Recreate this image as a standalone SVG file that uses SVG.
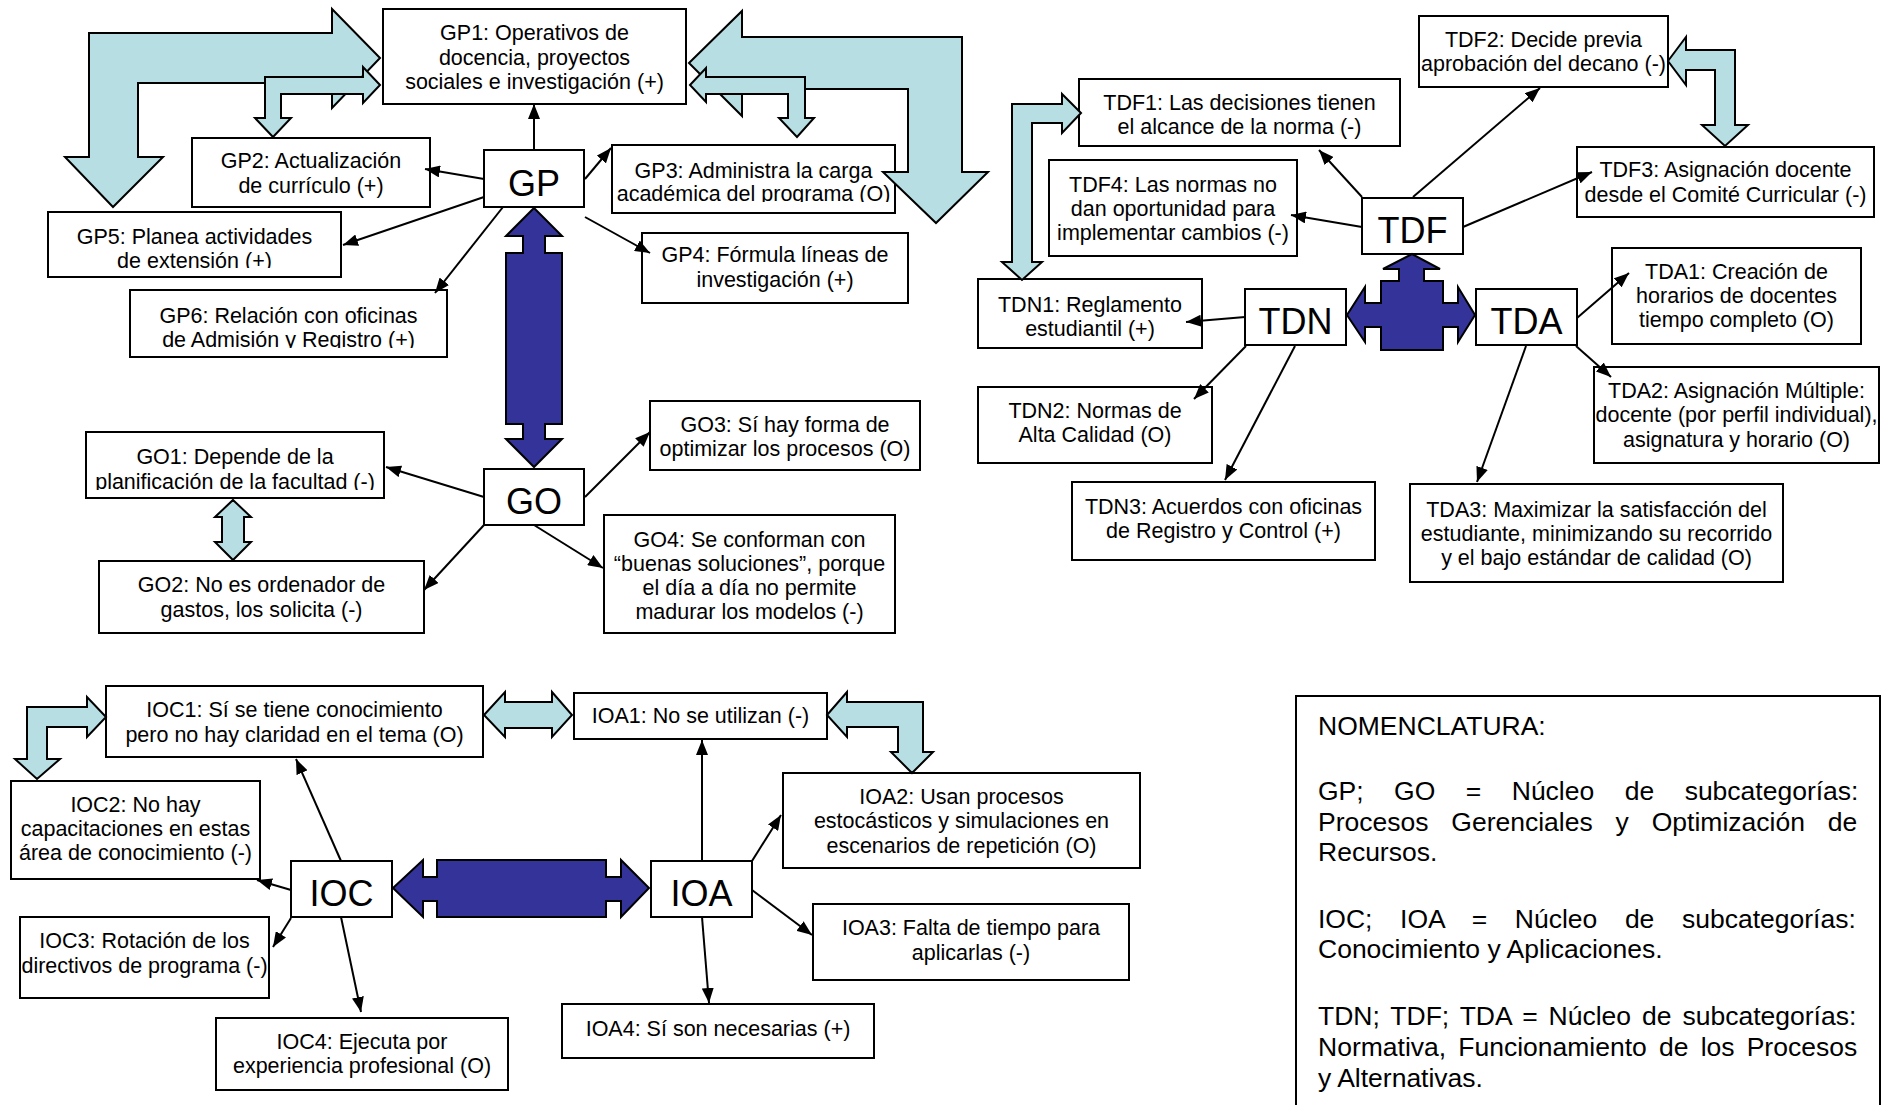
<svg xmlns="http://www.w3.org/2000/svg" width="1891" height="1105" viewBox="0 0 1891 1105">
<style>
.box{fill:#fff;stroke:#000;stroke-width:2}
.t{font-family:"Liberation Sans",Arial,sans-serif;font-size:21.5px;fill:#000;text-anchor:middle}
.big{font-family:"Liberation Sans",Arial,sans-serif;font-size:36px;fill:#000;text-anchor:middle}
.nom{font-family:"Liberation Sans",Arial,sans-serif;font-size:26.5px;fill:#000}
.lb{fill:#B7DEE2;stroke:#000;stroke-width:2;stroke-linejoin:miter}
.db{fill:#333399;stroke:#000;stroke-width:2;stroke-linejoin:miter}
.c{stroke:#000;stroke-width:2;fill:none;marker-end:url(#ah)}
</style>
<defs>
<marker id="ah" markerUnits="userSpaceOnUse" markerWidth="15" markerHeight="12" refX="15" refY="6" orient="auto">
<path d="M0,0 L15,6 L0,12 Z" fill="#000"/>
</marker>
<clipPath id="cGP3"><rect x="612" y="145" width="283" height="57"/></clipPath>
<clipPath id="cGP5"><rect x="48" y="212" width="293" height="56"/></clipPath>
<clipPath id="cGP6"><rect x="130" y="290" width="317" height="58"/></clipPath>
<clipPath id="cGO1"><rect x="86" y="432" width="298" height="58"/></clipPath>
</defs>
<rect width="1891" height="1105" fill="#fff"/>

<g id="GP1"><rect class="box" x="383" y="9" width="303" height="95"/>
<text class="t" x="534.5" y="40">GP1: Operativos de</text>
<text class="t" x="534.5" y="64.5">docencia, proyectos</text>
<text class="t" x="534.5" y="89">sociales e investigación (+)</text></g>
<g id="GP2"><rect class="box" x="192" y="138" width="238" height="69"/>
<text class="t" x="311" y="168">GP2: Actualización</text>
<text class="t" x="311" y="192.5">de currículo (+)</text></g>
<g id="GP"><rect class="box" x="484" y="150" width="100" height="57"/>
<text class="big" x="534" y="196">GP</text></g>
<g id="GP3"><rect class="box" x="612" y="145" width="283" height="68"/>
<g clip-path="url(#cGP3)"><text class="t" x="753.5" y="177.5">GP3: Administra la carga</text>
<text class="t" x="753.5" y="201">académica del programa (O)</text></g></g>
<g id="GP5"><rect class="box" x="48" y="212" width="293" height="65"/>
<g clip-path="url(#cGP5)"><text class="t" x="194.5" y="244">GP5: Planea actividades</text>
<text class="t" x="194.5" y="267.5">de extensión (+)</text></g></g>
<g id="GP4"><rect class="box" x="642" y="233" width="266" height="70"/>
<text class="t" x="775" y="262">GP4: Fórmula líneas de</text>
<text class="t" x="775" y="287">investigación (+)</text></g>
<g id="GP6"><rect class="box" x="130" y="290" width="317" height="67"/>
<g clip-path="url(#cGP6)"><text class="t" x="288.5" y="323">GP6: Relación con oficinas</text>
<text class="t" x="288.5" y="347">de Admisión y Registro (+)</text></g></g>

<g id="GO1"><rect class="box" x="86" y="432" width="298" height="66"/>
<g clip-path="url(#cGO1)"><text class="t" x="235" y="464">GO1: Depende de la</text>
<text class="t" x="235" y="488.5">planificación de la facultad (-)</text></g></g>
<g id="GO"><rect class="box" x="484" y="469" width="100" height="56"/>
<text class="big" x="534" y="514">GO</text></g>
<g id="GO3"><rect class="box" x="650" y="401" width="270" height="69"/>
<text class="t" x="785" y="432">GO3: Sí hay forma de</text>
<text class="t" x="785" y="456">optimizar los procesos (O)</text></g>
<g id="GO2"><rect class="box" x="99" y="561" width="325" height="72"/>
<text class="t" x="261.5" y="592">GO2: No es ordenador de</text>
<text class="t" x="261.5" y="617">gastos, los solicita (-)</text></g>
<g id="GO4"><rect class="box" x="604" y="515" width="291" height="118"/>
<text class="t" x="749.5" y="547">GO4: Se conforman con</text>
<text class="t" x="749.5" y="571">“buenas soluciones”, porque</text>
<text class="t" x="749.5" y="595">el día a día no permite</text>
<text class="t" x="749.5" y="619">madurar los modelos (-)</text></g>

<g id="TDF2"><rect class="box" x="1419" y="16" width="249" height="71"/>
<text class="t" x="1543.5" y="47">TDF2: Decide previa</text>
<text class="t" x="1543.5" y="71">aprobación del decano (-)</text></g>
<g id="TDF1"><rect class="box" x="1079" y="79" width="321" height="67"/>
<text class="t" x="1239.5" y="110">TDF1: Las decisiones tienen</text>
<text class="t" x="1239.5" y="134">el alcance de la norma (-)</text></g>
<g id="TDF4"><rect class="box" x="1049" y="160" width="248" height="96"/>
<text class="t" x="1173" y="192">TDF4: Las normas no</text>
<text class="t" x="1173" y="216">dan oportunidad para</text>
<text class="t" x="1173" y="240">implementar cambios (-)</text></g>
<g id="TDF3"><rect class="box" x="1577" y="147" width="297" height="70"/>
<text class="t" x="1725.5" y="177">TDF3: Asignación docente</text>
<text class="t" x="1725.5" y="202">desde el Comité Curricular (-)</text></g>
<g id="TDF"><rect class="box" x="1362" y="198" width="101" height="56"/>
<text class="big" x="1412.5" y="243">TDF</text></g>
<g id="TDN1"><rect class="box" x="978" y="279" width="224" height="69"/>
<text class="t" x="1090" y="312">TDN1: Reglamento</text>
<text class="t" x="1090" y="336">estudiantil (+)</text></g>
<g id="TDN"><rect class="box" x="1245" y="289" width="101" height="56"/>
<text class="big" x="1295.5" y="334">TDN</text></g>
<g id="TDA"><rect class="box" x="1476" y="289" width="101" height="56"/>
<text class="big" x="1526.5" y="334">TDA</text></g>
<g id="TDA1"><rect class="box" x="1612" y="248" width="249" height="96"/>
<text class="t" x="1736.5" y="279">TDA1: Creación de</text>
<text class="t" x="1736.5" y="303">horarios de docentes</text>
<text class="t" x="1736.5" y="327">tiempo completo (O)</text></g>
<g id="TDN2"><rect class="box" x="978" y="387" width="234" height="76"/>
<text class="t" x="1095" y="418">TDN2: Normas de</text>
<text class="t" x="1095" y="442">Alta Calidad (O)</text></g>
<g id="TDN3"><rect class="box" x="1072" y="482" width="303" height="78"/>
<text class="t" x="1223.5" y="514">TDN3: Acuerdos con oficinas</text>
<text class="t" x="1223.5" y="538">de Registro y Control (+)</text></g>
<g id="TDA2"><rect class="box" x="1594" y="367" width="285" height="96"/>
<text class="t" x="1736.5" y="398">TDA2: Asignación Múltiple:</text>
<text class="t" x="1736.5" y="422">docente (por perfil individual),</text>
<text class="t" x="1736.5" y="447">asignatura y horario (O)</text></g>
<g id="TDA3"><rect class="box" x="1410" y="484" width="373" height="98"/>
<text class="t" x="1596.5" y="517">TDA3: Maximizar la satisfacción del</text>
<text class="t" x="1596.5" y="541">estudiante, minimizando su recorrido</text>
<text class="t" x="1596.5" y="565">y el bajo estándar de calidad (O)</text></g>

<g id="IOC1"><rect class="box" x="106" y="686" width="377" height="71"/>
<text class="t" x="294.5" y="717">IOC1: Sí se tiene conocimiento</text>
<text class="t" x="294.5" y="742">pero no hay claridad en el tema (O)</text></g>
<g id="IOA1"><rect class="box" x="574" y="693" width="253" height="46"/>
<text class="t" x="700.5" y="723">IOA1: No se utilizan (-)</text></g>
<g id="IOA2"><rect class="box" x="783" y="773" width="357" height="95"/>
<text class="t" x="961.5" y="804">IOA2: Usan procesos</text>
<text class="t" x="961.5" y="828">estocásticos y simulaciones en</text>
<text class="t" x="961.5" y="853">escenarios de repetición (O)</text></g>
<g id="IOC2"><rect class="box" x="11" y="781" width="249" height="98"/>
<text class="t" x="135.5" y="812">IOC2: No hay</text>
<text class="t" x="135.5" y="836">capacitaciones en estas</text>
<text class="t" x="135.5" y="860">área de conocimiento (-)</text></g>
<g id="IOC"><rect class="box" x="291" y="861" width="101" height="56"/>
<text class="big" x="341.5" y="906">IOC</text></g>
<g id="IOA"><rect class="box" x="651" y="861" width="101" height="56"/>
<text class="big" x="701.5" y="906">IOA</text></g>
<g id="IOC3"><rect class="box" x="20" y="917" width="249" height="81"/>
<text class="t" x="144.5" y="948">IOC3: Rotación de los</text>
<text class="t" x="144.5" y="973">directivos de programa (-)</text></g>
<g id="IOA3"><rect class="box" x="813" y="904" width="316" height="76"/>
<text class="t" x="971" y="935">IOA3: Falta de tiempo para</text>
<text class="t" x="971" y="960">aplicarlas (-)</text></g>
<g id="IOC4"><rect class="box" x="216" y="1018" width="292" height="72"/>
<text class="t" x="362" y="1049">IOC4: Ejecuta por</text>
<text class="t" x="362" y="1073">experiencia profesional (O)</text></g>
<g id="IOA4"><rect class="box" x="562" y="1004" width="312" height="54"/>
<text class="t" x="718" y="1036">IOA4: Sí son necesarias (+)</text></g>

<g id="NOMENCLATURA">
<path d="M1296,1106 L1296,696 L1880,696 L1880,1106" fill="#fff" stroke="#000" stroke-width="2"/>
<text class="nom" x="1318" y="735">NOMENCLATURA:</text>
<text class="nom" x="1318" y="800" word-spacing="23.1">GP; GO = Núcleo de subcategorías:</text>
<text class="nom" x="1318" y="831" word-spacing="15.5">Procesos Gerenciales y Optimización de</text>
<text class="nom" x="1318" y="861">Recursos.</text>
<text class="nom" x="1318" y="928" word-spacing="20.2">IOC; IOA = Núcleo de subcategorías:</text>
<text class="nom" x="1318" y="958">Conocimiento y Aplicaciones.</text>
<text class="nom" x="1318" y="1025" word-spacing="3.6">TDN; TDF; TDA = Núcleo de subcategorías:</text>
<text class="nom" x="1318" y="1056" word-spacing="4.8">Normativa, Funcionamiento de los Procesos</text>
<text class="nom" x="1318" y="1087">y Alternativas.</text>
</g>

<g id="connectors">
<line class="c" x1="534" y1="150" x2="534" y2="104"/>
<line class="c" x1="484" y1="179" x2="425" y2="169"/>
<line class="c" x1="585" y1="179" x2="611" y2="148"/>
<line class="c" x1="484" y1="197" x2="343" y2="245"/>
<line class="c" x1="503" y1="207" x2="435" y2="293"/>
<line class="c" x1="585" y1="217" x2="650" y2="253"/>
<line class="c" x1="484" y1="497" x2="386" y2="467"/>
<line class="c" x1="585" y1="497" x2="650" y2="432"/>
<line class="c" x1="484" y1="525" x2="424" y2="590"/>
<line class="c" x1="534" y1="525" x2="603" y2="568"/>
<line class="c" x1="1362" y1="197" x2="1319" y2="150"/>
<line class="c" x1="1413" y1="197" x2="1540" y2="88"/>
<line class="c" x1="1463" y1="227" x2="1592" y2="172"/>
<line class="c" x1="1362" y1="227" x2="1291" y2="215"/>
<line class="c" x1="1245" y1="317" x2="1186" y2="322"/>
<line class="c" x1="1577" y1="318" x2="1629" y2="273"/>
<line class="c" x1="1246" y1="346" x2="1194" y2="399"/>
<line class="c" x1="1295" y1="346" x2="1225" y2="480"/>
<line class="c" x1="1526" y1="346" x2="1477" y2="482"/>
<line class="c" x1="1576" y1="346" x2="1611" y2="377"/>
<line class="c" x1="341" y1="861" x2="296" y2="759"/>
<line class="c" x1="291" y1="890" x2="257" y2="880"/>
<line class="c" x1="291" y1="918" x2="273" y2="947"/>
<line class="c" x1="341" y1="917" x2="361" y2="1012"/>
<line class="c" x1="702" y1="861" x2="702" y2="740"/>
<line class="c" x1="752" y1="861" x2="781" y2="815"/>
<line class="c" x1="752" y1="890" x2="812" y2="935"/>
<line class="c" x1="702" y1="917" x2="709" y2="1003"/>
</g>

<g id="block-arrows">
<path class="lb" d="M380,58 L332,9 L332,33 L89,33 L89,157 L65,157 L113,207 L163,157 L138,157 L138,83 L332,83 L332,108 Z"/>
<path class="lb" d="M380,85 L363,67 L363,77 L265,77 L265,118 L255,118 L273,137 L291,118 L281,118 L281,94 L363,94 L363,103 Z"/>
<path class="lb" d="M689,63 L742,11 L742,37 L962,37 L962,172 L988,172 L936,223 L883,172 L908,172 L908,89 L742,89 L742,116 Z"/>
<path class="lb" d="M690,85 L706,68 L706,77 L805,77 L805,118 L814,118 L797,137 L779,118 L788,118 L788,94 L706,94 L706,102 Z"/>
<path class="lb" d="M233,500 L251,517 L244,517 L244,542 L251,542 L233,560 L215,542 L222,542 L222,517 L215,517 Z"/>
<path class="lb" d="M1081,113 L1062,94 L1062,104 L1012,104 L1012,262 L1002,262 L1022,280 L1042,262 L1032,262 L1032,123 L1062,123 L1062,133 Z"/>
<path class="lb" d="M1668,61 L1686,37 L1686,50 L1735,50 L1735,125 L1748,125 L1725,146 L1702,125 L1715,125 L1715,70 L1686,70 L1686,85 Z"/>
<path class="lb" d="M484,715 L505,692 L505,702 L552,702 L552,692 L572,715 L552,737 L552,728 L505,728 L505,737 Z"/>
<path class="lb" d="M106,717 L87,697 L87,707 L27,707 L27,759 L15,759 L37,779 L60,759 L47,759 L47,727 L87,727 L87,737 Z"/>
<path class="lb" d="M827,715 L847,692 L847,702 L923,702 L923,752 L933,752 L912,773 L891,752 L898,752 L898,727 L847,727 L847,737 Z"/>
<path class="db" d="M534,208 L562,236 L545,236 L545,253 L562,253 L562,424 L545,424 L545,439 L562,439 L534,467 L506,439 L523,439 L523,424 L506,424 L506,253 L523,253 L523,236 L506,236 Z"/>
<path class="db" d="M1412,254 L1440,269 L1424,269 L1424,281 L1443,281 L1443,303 L1458,303 L1458,287 L1475,315 L1458,342 L1458,327 L1443,327 L1443,350 L1381,350 L1381,327 L1365,327 L1365,342 L1347,315 L1365,287 L1365,303 L1381,303 L1381,281 L1399,281 L1399,269 L1383,269 Z"/>
<path class="db" d="M393,888 L423,860 L423,877 L437,877 L437,860 L606,860 L606,877 L621,877 L621,860 L649,888 L621,917 L621,901 L606,901 L606,917 L437,917 L437,901 L423,901 L423,917 Z"/>
</g>
</svg>
